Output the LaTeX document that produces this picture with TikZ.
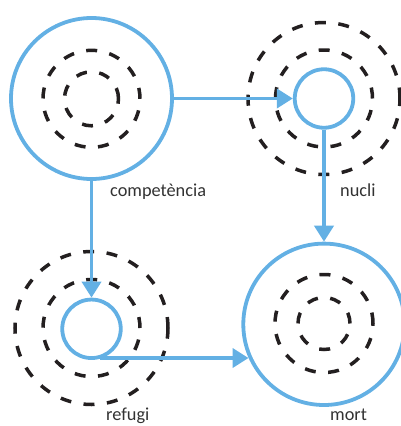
\documentclass[tikz,border=0pt]{standalone}
\usepackage{fontspec}
\setmainfont{Carlito}
\usetikzlibrary{arrows.meta}
\definecolor{cblue}{RGB}{99,176,228}
\definecolor{cdash}{RGB}{35,31,32}
\definecolor{ctext}{RGB}{50,50,50}
\begin{document}
\begin{tikzpicture}[x=1pt,y=-1pt,
 solidc/.style={circle,draw=cblue,line width=3.8pt,inner sep=0pt,minimum size=#1},
 dashc/.style={draw=cdash,line width=3.5pt,dash pattern=on 11pt off 12.5pt},
 conn/.style={draw=cblue,line width=3.8pt,-{Triangle[length=16pt,width=19pt]}},
 lbl/.style={anchor=base west,text=ctext,font=\fontsize{18.3}{20}\selectfont,inner sep=0pt}]
\useasboundingbox (0,0) rectangle (401,426);
% dashed rings
\draw[dashc] (91.5,98.8) circle[radius=48.5pt];
\draw[dashc] (91.5,98.8) circle[radius=27pt];
\draw[dashc] (324,98.5) circle[radius=48.5pt];
\draw[dashc] (324,98.5) circle[radius=76pt];
\draw[dashc] (91.5,328) circle[radius=48.5pt];
\draw[dashc] (91.5,328) circle[radius=76.5pt];
\draw[dashc] (324,323.5) circle[radius=49pt];
\draw[dashc] (324,323.5) circle[radius=26pt];
% solid circles
\node[solidc=161pt] (comp) at (91.5,98.5) {};
\node[solidc=58.5pt] (nucli) at (324,98.5) {};
\node[solidc=58.5pt] (refugi) at (91.5,328.8) {};
\node[solidc=161.4pt] (mort) at (324,324.3) {};
% connectors
\draw[conn] (comp.east) -- (nucli.west);
\draw[conn] (comp.south) -- (refugi.north);
\draw[conn] (nucli.south) -- (mort.north);
\coordinate (hstart) at (99.5,358);
\draw[conn] (hstart) -- (hstart -| mort.204);
% labels
\node[lbl] (lcomp) at (110,196) {competència};
\node[lbl] (lnucli) at (340,196) {nucli};
\node[lbl] (lrefugi) at (106,420.5) {refugi};
\node[lbl] (lmort) at (330,420.5) {mort};
\end{tikzpicture}
\end{document}
